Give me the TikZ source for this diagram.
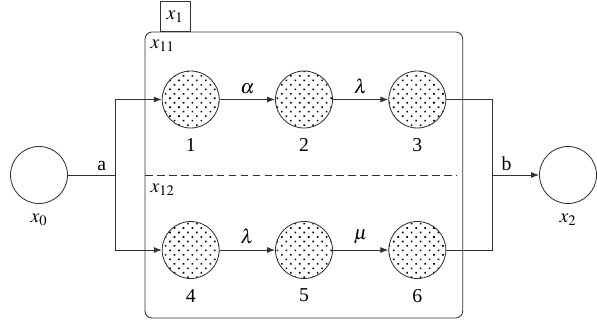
\documentclass[tikz,border=0pt]{standalone}
\usepackage{mathptmx}
\usepackage{fontspec}
\setmainfont{Liberation Serif}
\usepackage{tikz}
\usetikzlibrary{arrows.meta,positioning,calc,patterns.meta}
\definecolor{mkedge}{RGB}{50,50,50}
\tikzset{
  stbox/.style={
    circle, draw=mkedge, line width=0.6pt, inner sep=0pt,
    minimum size=1.425cm
  },
  busy/.style={stbox,
    pattern={Dots[angle=45,distance=4.5pt,radius=0.8pt]}, pattern color=black},
  idle/.style={stbox, fill=white},
  arr/.style={-{Latex[length=2mm,width=1.5mm]}, draw=mkedge, line width=0.6pt},
  wire/.style={draw=mkedge, line width=0.6pt},
  lbl/.style={font=\fontsize{14}{16}\selectfont, inner sep=1pt},
  every label/.style={lbl},
  every picture/.append style={font=\fontsize{14}{16}\selectfont}
}

\begin{document}
\begin{tikzpicture}[x=0.025cm,y=-0.025cm]
  \useasboundingbox (0,0) rectangle (597,322);
  % composite state x1
  \draw[wire, rounded corners=5] (145,32) rectangle (462.7,318);
  \node[draw=mkedge, line width=0.6pt, minimum width=0.75cm, minimum height=0.75cm,
        inner sep=0pt, anchor=south] (tag) at (175,32) {$x_1$};
  \draw[wire, dash pattern=on 5.5pt off 3pt] (145,175) -- (457,175);
  \node[lbl, anchor=west] (r11) at (149,46) {$x_{11}$};
  \node[lbl, anchor=west] (r12) at (149,190) {$x_{12}$};
  % states
  \node[idle, label={[label distance=6pt]below:$x_0$}] (src) at (39,175) {};
  \node[idle, label={[label distance=6pt]below:$x_2$}] (snk) at (568,175) {};
  \node[busy, label={[label distance=6pt]below:1}] (s1) at (190.7,99.5) {};
  \node[busy, label={[label distance=6pt]below:2}] (s2) at (304,99.5) {};
  \node[busy, label={[label distance=6pt]below:3}] (s3) at (417.3,99.5) {};
  \node[busy, label={[label distance=6pt]below:4}] (s4) at (190.7,250) {};
  \node[busy, label={[label distance=6pt]below:5}] (s5) at (304,250) {};
  \node[busy, label={[label distance=6pt]below:6}] (s6) at (417.3,250) {};
  % fork and join
  \coordinate (ja) at (115,175);
  \coordinate (jb) at (492.7,175);
  \draw[wire] (src) -- node[lbl, pos=0.72, above=2pt] {a} (ja);
  \draw[arr] (ja) |- (s1);
  \draw[arr] (ja) |- (s4);
  \draw[wire] (s3) -| (jb);
  \draw[wire] (s6) -| (jb);
  \draw[arr] (jb) -- node[lbl, pos=0.3, above=2pt] {b} (snk);
  % transitions
  \draw[arr] (s1) -- node[lbl, above=3pt] {$\alpha$} (s2);
  \draw[arr] (s2) -- node[lbl, above=3pt] {$\lambda$} (s3);
  \draw[arr] (s4) -- node[lbl, above=3pt] {$\lambda$} (s5);
  \draw[arr] (s5) -- node[lbl, above=3pt] {$\mu$} (s6);
\end{tikzpicture}
\end{document}
